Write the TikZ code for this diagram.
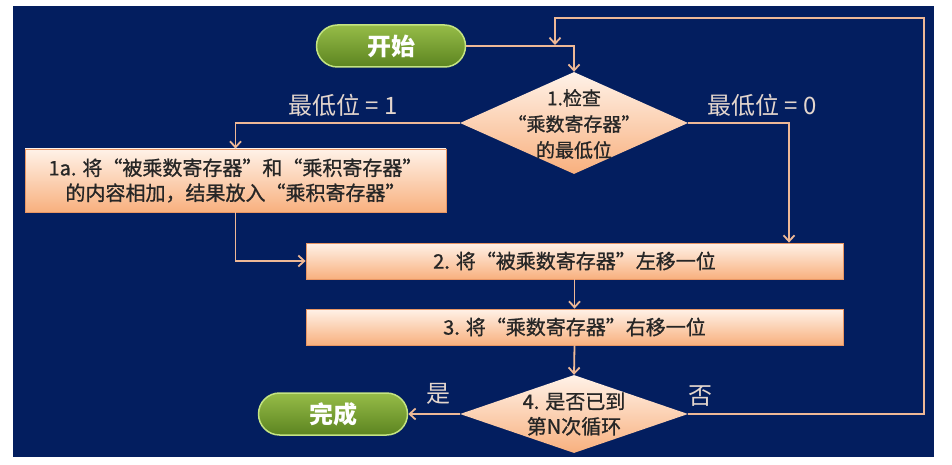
\documentclass[tikz,border=0pt]{standalone}
\usepackage{fontspec}
\setmainfont{Noto Sans CJK SC}
\newfontfamily\medfont[RawFeature={embolden=0.9}]{Noto Sans CJK SC}
\usetikzlibrary{shapes.geometric,arrows.meta}
\definecolor{bgblue}{RGB}{3,30,95}
\definecolor{lineor}{RGB}{238,184,150}
\definecolor{boxtop}{RGB}{255,242,232}
\definecolor{boxbot}{RGB}{248,176,126}
\definecolor{boxedge}{RGB}{232,150,100}
\definecolor{gtop}{RGB}{150,188,72}
\definecolor{gbot}{RGB}{92,132,32}
\definecolor{gedge}{RGB}{196,228,130}
\definecolor{lbl}{RGB}{228,214,205}
\tikzset{
  procbox/.style={rectangle, draw=boxedge, line width=0.8pt, top color=boxtop, bottom color=boxbot,
    inner sep=0pt, align=center, font=\medfont\fontsize{20}{25}\selectfont, text=black!85},
  decbox/.style={diamond, draw=none, top color=boxtop, bottom color=boxbot, inner sep=0pt},
  dectext/.style={align=center, text=black!85, inner sep=0pt},
  termbox/.style={rectangle, rounded corners=21pt, draw=gedge, line width=1.5pt, top color=gtop, bottom color=gbot,
    minimum width=149pt, minimum height=42pt, inner sep=0pt, text=white, font=\fontsize{24}{28}\selectfont\bfseries},
  conn/.style={draw=lineor, line width=1.8pt, -{Straight Barb[length=6pt,width=11pt,line width=1.8pt]}},
  lbltext/.style={text=lbl, font=\fontsize{24}{28}\selectfont, inner sep=0pt}
}
\begin{document}
\begin{tikzpicture}[x=1pt, y=-1pt]
\useasboundingbox (0,0) rectangle (952,465);
\fill[white] (0,0) rectangle (952,465);
\fill[bgblue] (13,6) rectangle (934,457);

\node[termbox] (start) at (391,46) {开始};
\node[decbox, minimum width=228pt, minimum height=102pt] (d1) at (574,123) {};
\node[dectext, font=\medfont\fontsize{19}{26}\selectfont] (d1t) at (574,124) {1.检查\\“乘数寄存器”\\的最低位};
\node[procbox, minimum width=421pt, minimum height=63pt] (b1a) at (235.5,180.5) {1a. 将“被乘数寄存器”和“乘积寄存器”\\的内容相加，结果放入“乘积寄存器”};
\node[procbox, minimum width=537pt, minimum height=36pt] (b2) at (574.5,261) {2. 将“被乘数寄存器”左移一位};
\node[procbox, minimum width=537pt, minimum height=36pt] (b3) at (574.5,327) {3. 将“乘数寄存器”右移一位};
\node[decbox, minimum width=228pt, minimum height=78pt] (d4) at (574,414) {};
\node[dectext, font=\medfont\fontsize{20}{25}\selectfont] (d4t) at (d4.center) {4. 是否已到\\第N次循环};
\node[termbox] (done) at (333,414) {完成};

\node[lbltext] (l1) at (343,105) {最低位 = 1};
\node[lbltext] (l0) at (762,105) {最低位 = 0};
\node[lbltext] (lyes) at (438,394) {是};
\node[lbltext] (lno) at (700,396) {否};

\coordinate (rx) at (789,123);
\coordinate (loopR) at (924,18);
\coordinate (merge) at (555,45);

\draw[conn] (start.east) -| (d1.north);
\draw[conn] (d1.west) -| (b1a.north);
\draw[conn] (d1.east) -| (b2.north -| rx);
\draw[conn] (b1a.south) |- (b2.west);
\draw[conn] (b2.south) -- (b3.north);
\draw[conn] (b3.south) -- (d4.north);
\draw[conn] (d4.west) -- (done.east);
\draw[conn] (d4.east) -| (loopR) -| (merge);
\end{tikzpicture}
\end{document}
